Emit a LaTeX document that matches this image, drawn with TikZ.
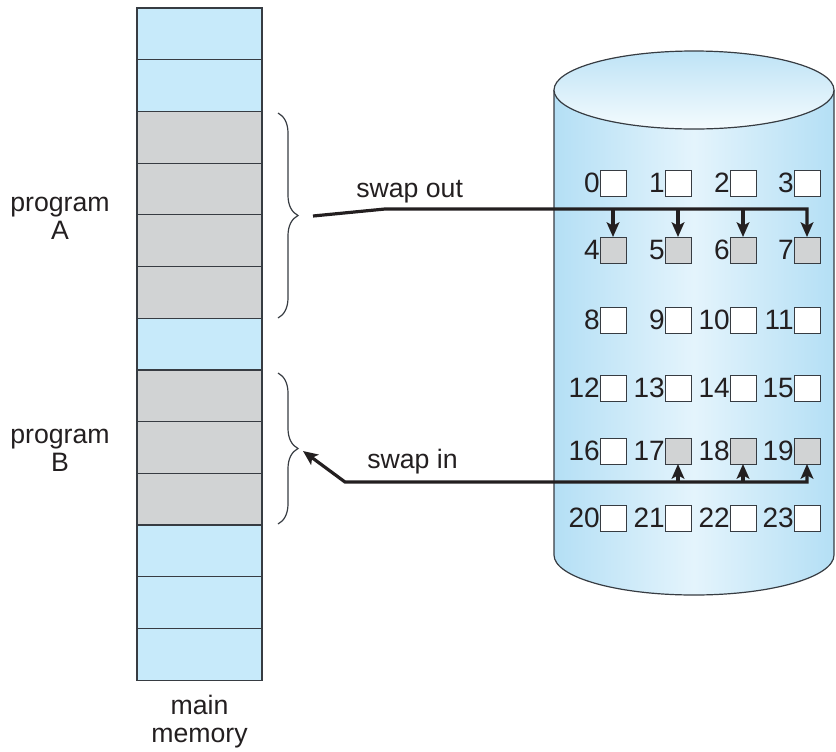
\documentclass[tikz,border=0pt]{standalone}
\usepackage{fontspec}
\setmainfont{Liberation Sans}
\usepackage{xcolor}
\usepackage{tikz}
\usetikzlibrary{arrows.meta, decorations.pathreplacing}
\definecolor{memblue}{RGB}{199,234,250}
\definecolor{memgray}{RGB}{209,211,212}
\definecolor{cylside}{RGB}{180,223,245}
\definecolor{cylmid}{RGB}{228,244,252}
\definecolor{cyltop}{RGB}{190,227,246}
\definecolor{cylcap}{RGB}{244,251,254}
\definecolor{edgeclr}{RGB}{55,60,66}
\definecolor{txtclr}{RGB}{35,31,32}
\tikzstyle{arrow} = [line width=2.4pt,->,>={Stealth[length=11pt, width=9.5pt, inset=2.5pt]},draw=txtclr]
\tikzstyle{memblk} = [draw=edgeclr, line width=0.9pt, minimum width=93.75pt, minimum height=38.8pt, inner sep=0pt, outer sep=0pt]
\tikzstyle{diskblk} = [draw=edgeclr, fill=white, line width=0.7pt, minimum size=19.5pt, inner sep=0pt, outer sep=0pt, label distance=4pt]
\tikzstyle{numlab} = [inner sep=0pt, font=\fontsize{21}{24}\selectfont, text=txtclr]
\tikzstyle{lbl} = [align=center, inner sep=0pt, font=\fontsize{20}{21}\selectfont, text=txtclr]
\tikzstyle{brace} = [decorate, decoration={brace, amplitude=15pt}, draw=edgeclr, line width=0.9pt]

\begin{document}
\begin{tikzpicture}[x=0.75pt, y=-0.75pt]
    \useasboundingbox (0, 0) rectangle (836, 751);
    % disk
    \shade[left color=cylside, right color=cylside, middle color=cylmid] (554, 90) -- (554, 555) arc[start angle=180, end angle=360, x radius=105pt, y radius=30pt] -- (834, 90) -- cycle;
    \draw[draw=edgeclr, line width=0.9pt] (554, 90) -- (554, 555) arc[start angle=180, end angle=360, x radius=105pt, y radius=30pt] -- (834, 90);
    \shadedraw[top color=cyltop, bottom color=cylcap, draw=edgeclr, line width=0.9pt] (694, 90) ellipse [x radius=105pt, y radius=29.25pt];

    \node[diskblk] (b0) at (613, 183) [label={[numlab]left:0}] {};
    \node[diskblk] (b1) at (678, 183) [label={[numlab]left:1}] {};
    \node[diskblk] (b2) at (743, 183) [label={[numlab]left:2}] {};
    \node[diskblk] (b3) at (807, 183) [label={[numlab]left:3}] {};
    \node[diskblk, fill=memgray] (b4) at (613, 250) [label={[numlab]left:4}] {};
    \node[diskblk, fill=memgray] (b5) at (678, 250) [label={[numlab]left:5}] {};
    \node[diskblk, fill=memgray] (b6) at (743, 250) [label={[numlab]left:6}] {};
    \node[diskblk, fill=memgray] (b7) at (807, 250) [label={[numlab]left:7}] {};
    \node[diskblk] (b8) at (613, 320) [label={[numlab]left:8}] {};
    \node[diskblk] (b9) at (678, 320) [label={[numlab]left:9}] {};
    \node[diskblk] (b10) at (743, 320) [label={[numlab]left:10}] {};
    \node[diskblk] (b11) at (807, 320) [label={[numlab]left:11}] {};
    \node[diskblk] (b12) at (613, 388) [label={[numlab]left:12}] {};
    \node[diskblk] (b13) at (678, 388) [label={[numlab]left:13}] {};
    \node[diskblk] (b14) at (743, 388) [label={[numlab]left:14}] {};
    \node[diskblk] (b15) at (807, 388) [label={[numlab]left:15}] {};
    \node[diskblk] (b16) at (613, 451) [label={[numlab]left:16}] {};
    \node[diskblk, fill=memgray] (b17) at (678, 451) [label={[numlab]left:17}] {};
    \node[diskblk, fill=memgray] (b18) at (743, 451) [label={[numlab]left:18}] {};
    \node[diskblk, fill=memgray] (b19) at (807, 451) [label={[numlab]left:19}] {};
    \node[diskblk] (b20) at (613, 518) [label={[numlab]left:20}] {};
    \node[diskblk] (b21) at (678, 518) [label={[numlab]left:21}] {};
    \node[diskblk] (b22) at (743, 518) [label={[numlab]left:22}] {};
    \node[diskblk] (b23) at (807, 518) [label={[numlab]left:23}] {};

    % main memory
    \node[memblk, fill=memblue] (m0) at (199.5, 33.9) {};
    \node[memblk, fill=memblue] (m1) at (199.5, 85.6) {};
    \node[memblk, fill=memgray] (m2) at (199.5, 137.3) {};
    \node[memblk, fill=memgray] (m3) at (199.5, 189.0) {};
    \node[memblk, fill=memgray] (m4) at (199.5, 240.7) {};
    \node[memblk, fill=memgray] (m5) at (199.5, 292.4) {};
    \node[memblk, fill=memblue] (m6) at (199.5, 344.1) {};
    \node[memblk, fill=memgray] (m7) at (199.5, 395.8) {};
    \node[memblk, fill=memgray] (m8) at (199.5, 447.5) {};
    \node[memblk, fill=memgray] (m9) at (199.5, 499.2) {};
    \node[memblk, fill=memblue] (m10) at (199.5, 550.9) {};
    \node[memblk, fill=memblue] (m11) at (199.5, 602.6) {};
    \node[memblk, fill=memblue] (m12) at (199.5, 654.3) {};
    \node[lbl] (mainmem) at (199.5, 722) {main\\memory};
    \node[lbl] (progA) at (60, 218) {program\\A};
    \node[lbl] (progB) at (60, 450) {program\\B};

    \draw[brace] (278, 113) -- (278, 318);
    \draw[brace] (278, 373) -- (278, 524);

    % swap out
    \coordinate (outA) at (313, 216);
    \coordinate (outbend) at (385, 209);
    \node[lbl, anchor=base west] (swapout) at (356, 197) {swap out};
    \draw[arrow] (outA) -- (outbend) -- (b7.north |- outbend) -- (b7.north);
    \draw[arrow] (b4.north |- outbend) -- (b4.north);
    \draw[arrow] (b5.north |- outbend) -- (b5.north);
    \draw[arrow] (b6.north |- outbend) -- (b6.north);

    % swap in
    \coordinate (inB) at (303, 451);
    \coordinate (inbend) at (345, 482);
    \node[lbl, anchor=base west] (swapin) at (367, 468) {swap in};
    \draw[arrow, <->] (b19.south) -- (b19.south |- inbend) -- (inbend) -- (inB);
    \draw[arrow] (b17.south |- inbend) -- (b17.south);
    \draw[arrow] (b18.south |- inbend) -- (b18.south);
\end{tikzpicture}
\end{document}
